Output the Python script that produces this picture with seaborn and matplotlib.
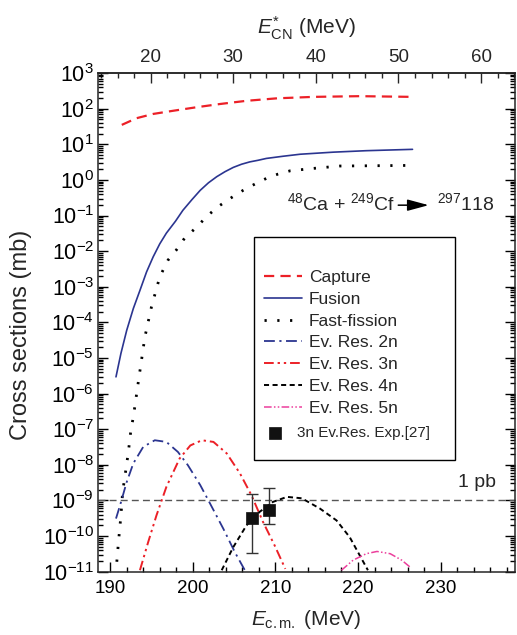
import numpy as np
import pandas as pd
import matplotlib
matplotlib.use("Agg")
import matplotlib.pyplot as plt
import seaborn as sns
from matplotlib.patches import Rectangle
from matplotlib.ticker import MultipleLocator, LogLocator, NullFormatter

# ---------------- data ----------------
capture_x = [191.4, 193.2, 195.2, 197.6, 200.5, 203.3, 206.5, 210.2, 214.6, 220.2, 226.6]
capture_y = [35, 54, 71, 87, 110, 135, 166, 195, 214, 224, 214]

fusion_x = [190.7, 191.3, 192.0, 192.8, 193.6, 194.4, 195.2, 196.0, 196.8, 197.9, 198.8,
            199.9, 200.9, 201.9, 202.9, 203.9, 204.9, 205.9, 206.9, 207.9, 208.9, 210.9,
            213.0, 217.0, 221.0, 226.6]
fusion_y = [2.95e-6, 1.35e-5, 6.0e-5, 2.45e-4, 7.9e-4, 2.6e-3, 6.9e-3, 1.6e-2, 3.2e-2,
            6.9e-2, 0.14, 0.28, 0.51, 0.83, 1.23, 1.7, 2.24, 2.75, 3.2, 3.55, 4.0, 4.6,
            5.25, 6.0, 6.6, 7.2]

ff_x = [190.8, 191.0, 191.3, 191.5, 191.8, 192.2, 192.5, 192.8, 193.4, 194.2, 195.0,
        196.0, 197.0, 198.0, 199.0, 200.5, 201.7, 203.1, 204.7, 206.1, 207.5, 208.9,
        210.3, 211.8, 214.6, 217.8, 226.5]
ff_y = [1.9e-11, 6.8e-11, 3.8e-10, 1.7e-9, 5.1e-9, 2.3e-8, 9.3e-8, 2.2e-7, 2.1e-6, 3.9e-5,
        2.75e-4, 1.9e-3, 5.6e-3, 1.07e-2, 2.3e-2, 4.8e-2, 9.5e-2, 0.18, 0.32, 0.51, 0.76,
        1.1, 1.45, 1.8, 2.1, 2.45, 2.55]

er2n_x = [190.7, 191.2, 192.0, 192.8, 194.0, 195.4, 196.8, 198.2, 199.4, 200.9, 202.1,
          203.7, 205.1, 206.3]
er2n_y = [3.1e-10, 7.4e-10, 3.3e-9, 1.1e-8, 3.2e-8, 4.9e-8, 4.4e-8, 2.3e-8, 9.8e-9, 2.7e-9,
          8.1e-10, 1.6e-10, 3.5e-11, 1.1e-11]

er3n_x = [193.6, 194.6, 195.6, 196.8, 198.4, 199.7, 201.1, 202.5, 204.1, 205.7, 207.1,
          208.5, 209.9, 211.2]
er3n_y = [1.1e-11, 6.8e-11, 3.8e-10, 2.4e-9, 1.5e-8, 3.5e-8, 4.9e-8, 4.4e-8, 2.1e-8, 5.8e-9,
          1.4e-9, 2.5e-10, 5.5e-11, 1.2e-11]

er4n_x = [203.5, 204.9, 206.5, 208.1, 209.7, 211.4, 213.2, 215.4, 217.4, 219.0, 220.2, 221.2]
er4n_y = [1.1e-11, 4.9e-11, 2.0e-10, 4.8e-10, 9.1e-10, 1.26e-9, 1.15e-9, 5.9e-10, 2.75e-10,
          9.3e-11, 2.9e-11, 1.1e-11]

er5n_x = [218.0, 219.4, 221.0, 222.3, 223.9, 225.3, 226.3]
er5n_y = [1.1e-11, 2.1e-11, 3.2e-11, 3.7e-11, 3.2e-11, 2.1e-11, 1.35e-11]

exp_x = [207.2, 209.2]
exp_y = [3.3e-10, 5.5e-10]
exp_lo = [3.4e-11, 2.2e-10]
exp_hi = [1.5e-9, 2.3e-9]

one_pb = 1e-9
q_offset = 174.9          # E*_CN = E_cm - q_offset
x_ticks = [190, 200, 210, 220, 230]
top_ticks = [20, 30, 40, 50, 60]

# ---------------- style ----------------
sns.set_style("ticks")
plt.rcParams["font.family"] = ["Liberation Sans", "DejaVu Sans"]
plt.rcParams["mathtext.fontset"] = "custom"
plt.rcParams["mathtext.rm"] = "Liberation Sans"
plt.rcParams["mathtext.it"] = "Liberation Sans:italic"
plt.rcParams["mathtext.bf"] = "Liberation Sans:bold"
plt.rcParams["axes.linewidth"] = 1.1

RED = "#ec2027"
BLUE = "#2b3590"
MAG = "#ec3f9c"

fig = plt.figure(figsize=(5.17, 6.35), dpi=100)
ax = fig.add_axes([0.190, 0.0997, 0.806, 0.7853])

def line(x, y, **kw):
    sns.lineplot(x=np.array(x), y=np.array(y), ax=ax, sort=False, estimator=None, **kw)

line(capture_x, capture_y, color=RED, lw=1.6, linestyle=(0, (4.6, 2.8)), label="Capture")
line(fusion_x, fusion_y, color=BLUE, lw=1.2, linestyle="-", label="Fusion")
line(ff_x, ff_y, color="black", lw=2.0, linestyle=(0, (0.8, 3.8)), label="Fast-fission")
line(er2n_x, er2n_y, color=BLUE, lw=1.3, linestyle=(0, (6, 2.5, 1.2, 2.5)), label="Ev. Res. 2n")
line(er3n_x, er3n_y, color=RED, lw=1.4, linestyle=(0, (5, 2, 1.2, 2, 1.2, 2)), label="Ev. Res. 3n")
line(er4n_x, er4n_y, color="black", lw=1.4, linestyle=(0, (2.6, 1.8)), label="Ev. Res. 4n")
line(er5n_x, er5n_y, color=MAG, lw=1.1, linestyle=(0, (5, 1.5, 1, 1.5, 1, 1.5)), label="Ev. Res. 5n")

ax.axhline(one_pb, color="#555555", lw=1.0, linestyle=(0, (5, 3)), zorder=1)

ylo = np.array(exp_y) - np.array(exp_lo)
yhi = np.array(exp_hi) - np.array(exp_y)
ax.errorbar(exp_x, exp_y, yerr=[ylo, yhi], fmt="none", ecolor="#333333",
            elinewidth=1.0, capsize=4.5, capthick=1.0, zorder=4)
sns.scatterplot(x=exp_x, y=exp_y, ax=ax, marker="s", s=65, color="#111111",
                edgecolor="#111111", linewidth=0.5, zorder=5, label="3n Ev.Res. Exp.[27]")

ax.set_yscale("log")
ax.set_xlim(188.55, 239.0)
ax.set_ylim(1e-11, 1e3)

ax.xaxis.set_minor_locator(MultipleLocator(2))
ax.set_xticks(x_ticks)
ax.yaxis.set_major_locator(LogLocator(base=10, numticks=20))
ax.yaxis.set_minor_locator(LogLocator(base=10, subs=np.arange(2, 10), numticks=200))
ax.yaxis.set_minor_formatter(NullFormatter())

ax.tick_params(which="both", direction="in", top=False, right=True,
               width=1.0, colors="black")
ax.tick_params(axis="x", labelsize=13.5, pad=6)
ax.tick_params(axis="y", labelsize=15.5, pad=3)
ax.tick_params(which="major", length=7)
ax.tick_params(which="minor", length=3.5)

secx = ax.secondary_xaxis("top", functions=(lambda e: e - q_offset, lambda e: e + q_offset))
secx.set_xticks(top_ticks)
secx.xaxis.set_minor_locator(MultipleLocator(2))
secx.tick_params(which="both", direction="in", labelsize=13.5, width=1.0)
secx.tick_params(which="major", length=7, pad=5)
secx.tick_params(which="minor", length=3.5)
secx.set_xlabel(r"$E^{*}_{\rm CN}$ (MeV)", fontsize=15, labelpad=11)

ax.set_xlabel(r"$E_{\rm c.m.}$ (MeV)", fontsize=15, labelpad=8)
ax.set_ylabel("Cross sections (mb)", fontsize=17)
ax.yaxis.set_label_coords(-0.16, 0.475)

# reaction annotation
ax.text(0.452, 0.725, r"$^{48}$Ca + $^{249}$Cf", transform=ax.transAxes,
        fontsize=14, va="baseline", ha="left")
ax.annotate("", xy=(0.793, 0.735), xytext=(0.72, 0.735), xycoords="axes fraction",
            arrowprops=dict(arrowstyle="-|>,head_length=1.3,head_width=0.35",
                            mutation_scale=10, color="black", lw=1.1,
                            shrinkA=0, shrinkB=0))
ax.text(0.812, 0.725, r"$^{297}$118", transform=ax.transAxes,
        fontsize=14, va="baseline", ha="left")
ax.text(0.864, 0.170, "1 pb", transform=ax.transAxes, fontsize=14,
        va="baseline", ha="left")

# legend frame + legends
ax.add_patch(Rectangle((0.3744, 0.2246), 0.4809, 0.4459, transform=ax.transAxes,
                       fill=True, facecolor="white", edgecolor="black", lw=1.0, zorder=6))
handles, labels = ax.get_legend_handles_labels()
hmap = dict(zip(labels, handles))
main_labels = ["Capture", "Fusion", "Fast-fission", "Ev. Res. 2n", "Ev. Res. 3n",
               "Ev. Res. 4n", "Ev. Res. 5n"]
leg1 = ax.legend([hmap[l] for l in main_labels], main_labels, loc="upper left",
                 bbox_to_anchor=(0.397, 0.605), frameon=False, fontsize=12.5,
                 borderpad=0, borderaxespad=0, handlelength=2.2, handletextpad=0.4,
                 labelspacing=0.38)
leg1.set_zorder(7)
ax.add_artist(leg1)
leg2 = ax.legend([hmap["3n Ev.Res. Exp.[27]"]], ["3n Ev.Res. Exp.[27]"], loc="upper left",
                 bbox_to_anchor=(0.386, 0.292), frameon=False, fontsize=11,
                 borderpad=0, borderaxespad=0, handlelength=2.1, handletextpad=0.4)
leg2.set_zorder(7)

fig.savefig("out.png", dpi=100)
